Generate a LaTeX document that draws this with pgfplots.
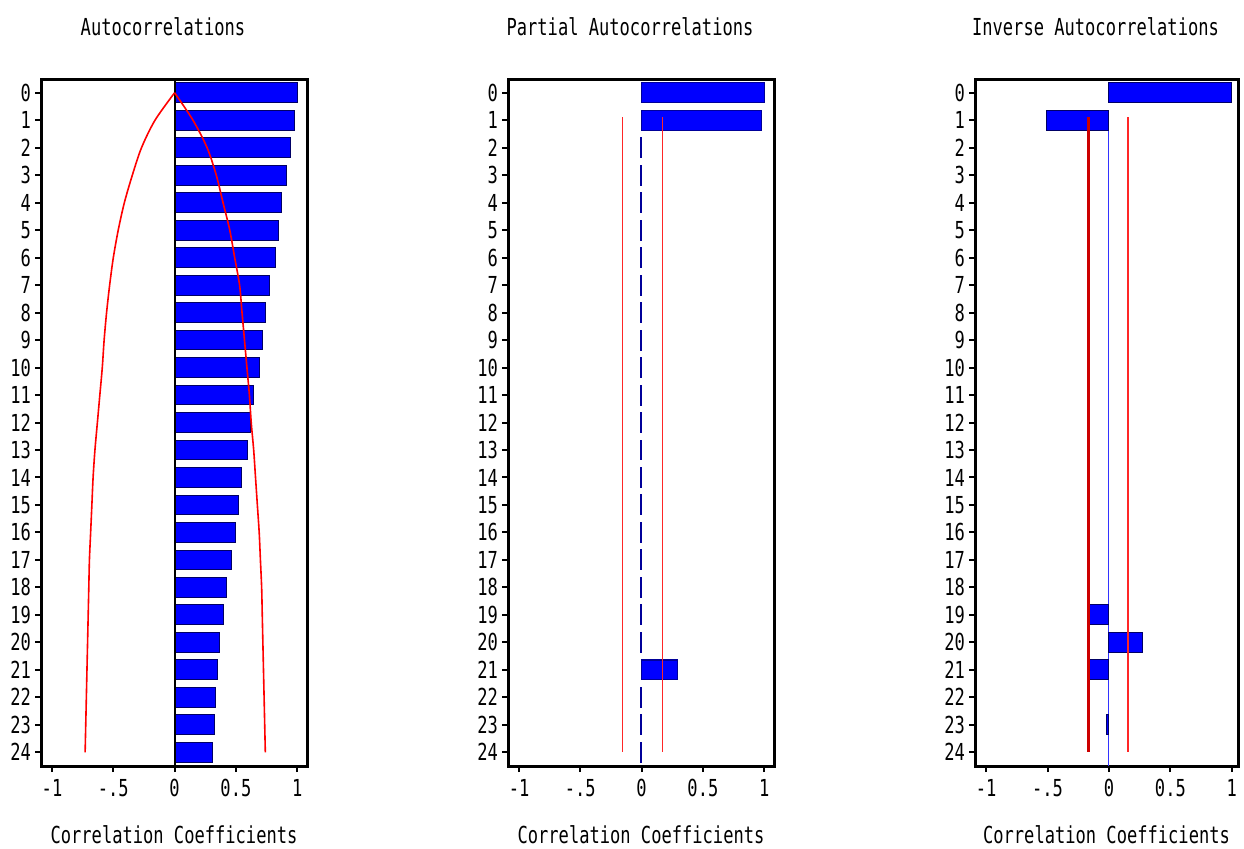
\documentclass[border=0pt]{standalone}
\usepackage{pgfplots}
\usepackage{pgfplotstable}
\pgfplotsset{compat=1.18}
\usepackage{fontspec}
\newfontfamily\sasfont[FakeStretch=0.73]{DejaVu Sans Mono}
\newcommand{\sasf}{\sasfont\fontsize{11.7}{13}\selectfont}

\pgfplotstableread{
lag val
0 1.0
1 0.975
2 0.945
3 0.915
4 0.875
5 0.845
6 0.82
7 0.77
8 0.745
9 0.717
10 0.69
11 0.645
12 0.62
13 0.595
14 0.545
15 0.52
16 0.495
17 0.465
18 0.42
19 0.40
20 0.37
21 0.35
22 0.335
23 0.325
24 0.31
}\acf

\pgfplotstableread{
lag up lo
0 0 0
1 0.15 -0.16
2 0.265 -0.27
3 0.34 -0.345
4 0.395 -0.41
5 0.45 -0.46
6 0.49 -0.50
7 0.53 -0.53
8 0.55 -0.555
9 0.57 -0.575
10 0.59 -0.59
11 0.61 -0.61
12 0.625 -0.63
13 0.645 -0.65
14 0.66 -0.665
15 0.675 -0.675
16 0.69 -0.685
17 0.70 -0.695
18 0.71 -0.70
19 0.715 -0.705
20 0.72 -0.71
21 0.725 -0.715
22 0.73 -0.72
23 0.735 -0.725
24 0.74 -0.73
}\band

\pgfplotstableread{
lag val
0 1.0
1 0.98
2 -0.008
3 -0.006
4 -0.008
5 -0.005
6 -0.007
7 -0.006
8 -0.008
9 -0.005
10 -0.007
11 -0.006
12 -0.008
13 -0.005
14 -0.007
15 -0.006
16 -0.008
17 -0.005
18 -0.007
19 -0.006
20 -0.008
21 0.29
22 -0.006
23 -0.008
24 -0.005
}\pacf

\pgfplotstableread{
lag val
0 1.0
1 -0.51
19 -0.155
20 0.27
21 -0.155
23 -0.02
}\iacf

\pgfplotsset{sasaxis/.style={
  scale only axis, width=133pt, height=343.5pt,
  xmin=-1.09, xmax=1.08, ymin=-0.5, ymax=24.5, y dir=reverse,
  axis line style={line width=1.5pt},
  xtick={-1,-0.5,0,0.5,1}, xticklabels={-1,-.5,0,0.5,1},
  ytick={0,...,24},
  yticklabel={\pgfmathtruncatemacro{\lag}{\tick}\lag},
  yticklabel style={xshift=1.5pt},
  tick align=outside, major tick length=3pt,
  every tick/.style={black, line width=1pt},
  ticklabel style={font=\sasf},
  xtick pos=bottom, ytick pos=left,
  title style={font=\sasf, at={(axis description cs:0.5,1)}, anchor=center, yshift=20pt, xshift=-5.5pt},
  xlabel style={font=\sasf, at={(axis description cs:0.5,0)}, anchor=center, yshift=-34.5pt},
  xlabel={Correlation Coefficients},
}}

\begin{document}
\begin{tikzpicture}
\path[use as bounding box] (0,0) rectangle (622pt,424pt);

\begin{axis}[sasaxis, at={(20.5pt,41pt)}, anchor=south west, title={Autocorrelations}]
\addplot[xbar, bar width=0.72, fill=blue, draw=blue!40!black, line width=0.5pt] table[x=val,y=lag]{\acf};
\addplot[black, line width=1pt] coordinates {(0,-0.5) (0,24.5)};
\addplot[red, line width=0.8pt, smooth] table[x=lo,y=lag]{\band};
\addplot[red, line width=0.8pt, smooth] table[x=up,y=lag]{\band};
\end{axis}

\begin{axis}[sasaxis, at={(254pt,41pt)}, anchor=south west, title={Partial Autocorrelations}]
\addplot[xbar, bar width=0.72, fill=blue, draw=blue!60!black, line width=0.6pt] table[x=val,y=lag]{\pacf};
\addplot[red!85!white, line width=0.6pt] coordinates {(-0.155,0.9) (-0.155,24)};
\addplot[red!85!white, line width=0.6pt] coordinates {(0.17,0.9) (0.17,24)};
\end{axis}

\begin{axis}[sasaxis, at={(487.5pt,41pt)}, anchor=south west, width=131.5pt, xmax=1.05, title={Inverse Autocorrelations}]
\addplot[blue!80, line width=0.5pt] coordinates {(0,1.4) (0,24.5)};
\addplot[xbar, bar width=0.72, fill=blue, draw=blue!40!black, line width=0.5pt] table[x=val,y=lag]{\iacf};
\addplot[red!80!black, line width=1.3pt] coordinates {(-0.165,0.9) (-0.165,24)};
\addplot[red!85!white, line width=0.6pt] coordinates {(0.155,0.9) (0.155,24)};
\end{axis}
\end{tikzpicture}
\end{document}
